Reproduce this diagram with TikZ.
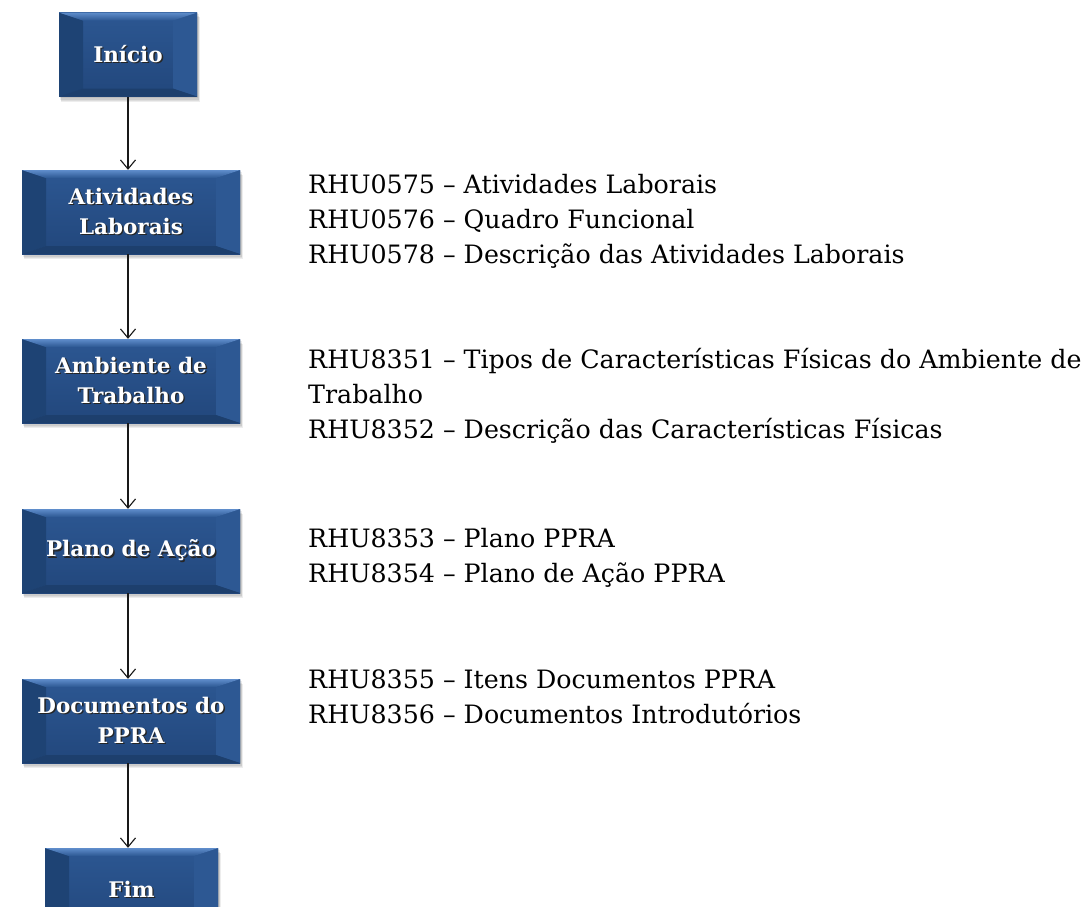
\documentclass[tikz,border=0pt]{standalone}
\usepackage{fontspec}
\setmainfont{DejaVu Serif}
\usetikzlibrary{arrows.meta}
\definecolor{basetop}{HTML}{2C5792}
\definecolor{basebot}{HTML}{22477C}
\definecolor{bevleft}{HTML}{1E4374}
\definecolor{bevright}{HTML}{2D5893}
\definecolor{bevtop}{HTML}{5F8DCB}
\definecolor{bevbot}{HTML}{1D3F6D}
\newcommand\shtxt[1]{\makebox[0pt][l]{\hspace{1.4pt}\raisebox{-1.4pt}{\color{black!85}#1}}#1}
\tikzset{
  flowbox/.style={minimum height=84pt, inner sep=0pt, align=center, text=white,
    font=\bfseries\fontsize{21.5}{30}\selectfont,
    top color=basetop, bottom color=basebot,
    path picture={
      \fill[bevleft] (path picture bounding box.north west) -- ([shift={(24pt,-8pt)}]path picture bounding box.north west)
         -- ([shift={(24pt,8pt)}]path picture bounding box.south west) -- (path picture bounding box.south west) -- cycle;
      \fill[bevright] (path picture bounding box.north east) -- ([shift={(-24pt,-8pt)}]path picture bounding box.north east)
         -- ([shift={(-24pt,8pt)}]path picture bounding box.south east) -- (path picture bounding box.south east) -- cycle;
      \fill[bevbot] (path picture bounding box.south west) -- ([shift={(24pt,8pt)}]path picture bounding box.south west)
         -- ([shift={(-24pt,8pt)}]path picture bounding box.south east) -- (path picture bounding box.south east) -- cycle;
      \shade[top color=bevtop, bottom color=basetop] (path picture bounding box.north west) -- ([shift={(24pt,-8pt)}]path picture bounding box.north west)
         -- ([shift={(-24pt,-8pt)}]path picture bounding box.north east) -- (path picture bounding box.north east) -- cycle;
    }},
  boxshadow/.style={fill=black, opacity=0.07},
  arr/.style={draw=black!90, line width=1.2pt, -{Straight Barb[length=9pt,width=15pt,line width=1.1pt]}},
  desc/.style={anchor=base west, inner sep=0pt, font=\fontsize{25.3}{35}\selectfont, text=black}
}
\begin{document}
\begin{tikzpicture}[x=1pt,y=-1pt]
\useasboundingbox (0,0) rectangle (1088,906);
\clip (0,0) rectangle (1088,906);
\fill[white] (0,0) rectangle (1088,906);
% shadows
\foreach \l/\t/\r/\b in {59/12/197/97, 22/170/240/254, 22/339/240/423, 22/509/240/593, 22/679/240/763, 45/848/218/932}{
  \foreach \s in {1,2,3,4}{
    \fill[boxshadow] (\l+\s*0.6,\t+\s*1.2) rectangle (\r+\s*0.8,\b+\s*1.3);
  }
}
\node[flowbox, minimum width=138pt] (b0) at (128,54.5) {\shtxt{Início}};
\node[flowbox, minimum width=218pt] (b1) at (131,212) {\shtxt{Atividades}\\\shtxt{Laborais}};
\node[flowbox, minimum width=218pt] (b2) at (131,381) {\shtxt{Ambiente de}\\\shtxt{Trabalho}};
\node[flowbox, minimum width=218pt] (b3) at (131,551) {\shtxt{Plano de Ação}};
\node[flowbox, minimum width=218pt] (b4) at (131,721) {\shtxt{Documentos do}\\\shtxt{PPRA}};
\node[flowbox, minimum width=173pt] (b5) at (131.5,890) {\shtxt{Fim}};
\coordinate (a0s) at (128,97);
\draw[arr] (a0s) -- (a0s |- b1.north);
\draw[arr] (b1.south -| a0s) -- (a0s |- b2.north);
\draw[arr] (b2.south -| a0s) -- (a0s |- b3.north);
\draw[arr] (b3.south -| a0s) -- (a0s |- b4.north);
\draw[arr] (b4.south -| a0s) -- (a0s |- b5.north);
% descriptions
\node[desc] (d1a) at (308,193) {RHU0575 – Atividades Laborais};
\node[desc] (d1b) at (308,228) {RHU0576 – Quadro Funcional};
\node[desc] (d1c) at (308,263) {RHU0578 – Descrição das Atividades Laborais};
\node[desc] (d2a) at (308,368) {RHU8351 – Tipos de Características Físicas do Ambiente de};
\node[desc] (d2b) at (308,403) {Trabalho};
\node[desc] (d2c) at (308,438) {RHU8352 – Descrição das Características Físicas};
\node[desc] (d3a) at (308,547) {RHU8353 – Plano PPRA};
\node[desc] (d3b) at (308,582) {RHU8354 – Plano de Ação PPRA};
\node[desc] (d4a) at (308,688) {RHU8355 – Itens Documentos PPRA};
\node[desc] (d4b) at (308,723) {RHU8356 – Documentos Introdutórios};
\end{tikzpicture}
\end{document}
